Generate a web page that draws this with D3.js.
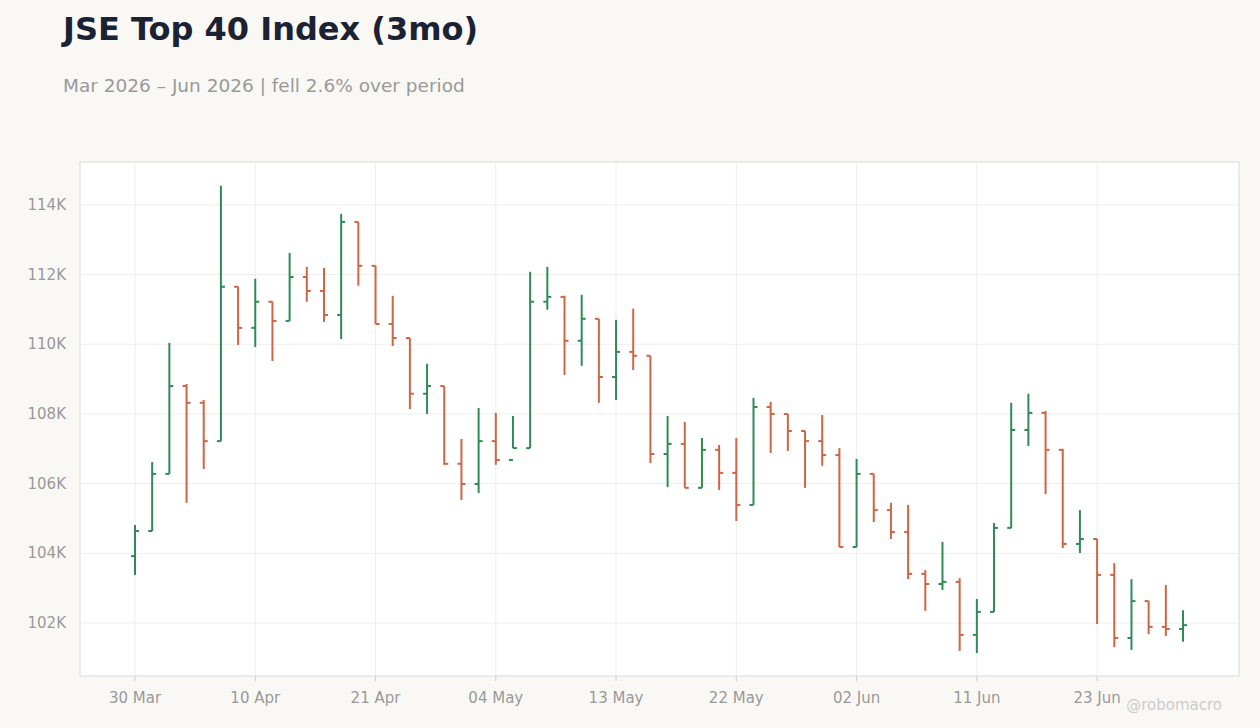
<!DOCTYPE html>
<html><head><meta charset="utf-8">
<script src="https://cdn.jsdelivr.net/npm/d3@7"></script>
<style>body{margin:0;background:#f9f8f5;font-family:"DejaVu Sans",sans-serif}</style>
</head><body><svg id="c" width="1260" height="728"></svg>
<script>
const dates=["2026-03-30","2026-03-31","2026-04-01","2026-04-02","2026-04-07","2026-04-08","2026-04-09","2026-04-10","2026-04-13","2026-04-14","2026-04-15","2026-04-16","2026-04-17","2026-04-20","2026-04-21","2026-04-22","2026-04-23","2026-04-24","2026-04-28","2026-04-29","2026-04-30","2026-05-04","2026-05-05","2026-05-06","2026-05-07","2026-05-08","2026-05-11","2026-05-12","2026-05-13","2026-05-14","2026-05-15","2026-05-18","2026-05-19","2026-05-20","2026-05-21","2026-05-22","2026-05-25","2026-05-26","2026-05-27","2026-05-28","2026-05-29","2026-06-01","2026-06-02","2026-06-03","2026-06-04","2026-06-05","2026-06-08","2026-06-09","2026-06-10","2026-06-11","2026-06-12","2026-06-15","2026-06-17","2026-06-18","2026-06-19","2026-06-22","2026-06-23","2026-06-24","2026-06-25","2026-06-26","2026-06-29","2026-06-30"];
const open=[103920,104640,106280,108800,108320,107220,111650,110470,111220,110670,111930,111530,110840,113510,112250,110580,110180,108580,108800,106570,105990,107220,106680,107020,111220,111360,110100,110730,109060,109780,109670,106850,107140,105880,106970,106310,105390,108200,108000,107510,107220,106820,104180,106280,105240,104610,103410,103120,103180,101660,102320,104730,107540,108030,106970,104270,104410,103380,101570,102630,101890,101830];
const high=[104810,106620,110040,108860,108400,114550,111650,111880,111220,112620,112220,112190,113740,113510,112250,111390,110180,109440,108800,107280,108170,108030,107940,112080,112220,111390,111420,110730,110700,111020,109670,107940,107770,107310,107110,107310,108460,108350,108000,107510,107970,107020,106710,106280,105450,105390,103520,104330,103290,102690,104870,108320,108580,108090,107000,105240,104410,103720,103260,102630,103090,102370];
const low=[103380,104640,106280,105450,106420,107220,109980,109920,109520,110670,111220,110640,110150,111680,110580,109950,108140,108000,106540,105530,105730,106540,107020,107020,110990,109120,109380,108320,108400,109260,106590,105900,105880,105880,105820,104930,105390,106880,106940,105880,106510,104180,104180,104900,104410,103260,102350,102950,101200,101140,102320,104730,107080,105700,104150,104010,101970,101310,101230,101680,101630,101460];
const close=[104640,106280,108800,108320,107220,111650,110470,111220,110670,111930,111530,110840,113510,112250,110580,110180,108580,108800,106570,105990,107220,106680,107020,111220,111360,110100,110730,109060,109780,109670,106850,107140,105880,106970,106310,105390,108200,108000,107510,107220,106820,104180,106280,105240,104610,103410,103120,103180,101660,102320,104730,107540,108030,106970,104270,104410,103380,101570,102630,101890,101830,101940];
const yTicks=[102000,104000,106000,108000,110000,112000,114000];
const data=dates.map((d,i)=>({d,o:open[i],h:high[i],l:low[i],c:close[i]}));
const svg=d3.select("#c");
const L=80,R=1239,T=162,B=676;
svg.append("text").attr("x",63).attr("y",40).attr("font-size",32).attr("font-weight","bold").attr("fill","#1a2233").text("JSE Top 40 Index (3mo)");
svg.append("text").attr("x",63).attr("y",92).attr("font-size",18.5).attr("fill","#999").text("Mar 2026 – Jun 2026 | fell 2.6% over period");
svg.append("rect").attr("x",L).attr("y",T).attr("width",R-L).attr("height",B-T).attr("fill","#fff").attr("stroke","#ddd9d2");
const x=d3.scalePoint().domain(dates).range([135,1183]);
const y=d3.scaleLinear().domain([100480,115230]).range([B,T]);
const g=svg.append("g");
yTicks.forEach(v=>g.append("line").attr("x1",L).attr("x2",R).attr("y1",y(v)).attr("y2",y(v)).attr("stroke","#eeeeee"));
const xt=dates.filter((d,i)=>i%7===0);
xt.forEach(d=>g.append("line").attr("x1",x(d)).attr("x2",x(d)).attr("y1",T).attr("y2",B).attr("stroke","#eeeeee"));
const fmt=d3.utcFormat("%d %b");
xt.forEach(d=>{
 g.append("line").attr("x1",x(d)).attr("x2",x(d)).attr("y1",B).attr("y2",B+5).attr("stroke","#ccc");
 g.append("text").attr("x",x(d)).attr("y",703).attr("text-anchor","middle").attr("font-size",15).attr("fill","#999").text(fmt(new Date(d+"T00:00:00Z")));
});
yTicks.forEach(v=>g.append("text").attr("x",66).attr("y",y(v)+5).attr("text-anchor","end").attr("font-size",15).attr("fill","#999").text(v/1000+"K"));
const bars=svg.append("g").selectAll("g").data(data).join("g").attr("stroke",d=>d.c>=d.o?"#2e8b57":"#cc6644").attr("stroke-width",2);
bars.append("line").attr("x1",d=>x(d.d)).attr("x2",d=>x(d.d)).attr("y1",d=>y(d.h)).attr("y2",d=>y(d.l));
bars.append("line").attr("x1",d=>x(d.d)-4).attr("x2",d=>x(d.d)).attr("y1",d=>y(d.o)).attr("y2",d=>y(d.o));
bars.append("line").attr("x1",d=>x(d.d)).attr("x2",d=>x(d.d)+4).attr("y1",d=>y(d.c)).attr("y2",d=>y(d.c));
svg.append("text").attr("x",1222).attr("y",710).attr("text-anchor","end").attr("font-size",15).attr("fill","#ccc").text("@robomacro");
</script></body></html>
